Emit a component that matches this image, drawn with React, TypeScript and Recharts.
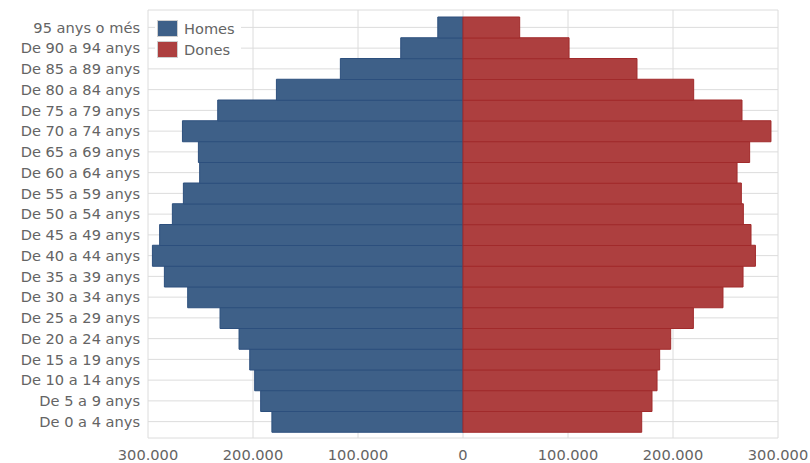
import React from 'react';
import { BarChart, Bar, XAxis, YAxis, CartesianGrid } from 'recharts';

const ageGroups = [
  'De 0 a 4 anys', 'De 5 a 9 anys', 'De 10 a 14 anys', 'De 15 a 19 anys',
  'De 20 a 24 anys', 'De 25 a 29 anys', 'De 30 a 34 anys', 'De 35 a 39 anys',
  'De 40 a 44 anys', 'De 45 a 49 anys', 'De 50 a 54 anys', 'De 55 a 59 anys',
  'De 60 a 64 anys', 'De 65 a 69 anys', 'De 70 a 74 anys', 'De 75 a 79 anys',
  'De 80 a 84 anys', 'De 85 a 89 anys', 'De 90 a 94 anys', '95 anys o més',
];

const homes = [
  182000, 192700, 198400, 203100, 213300, 231400, 262200, 284400, 295800, 288900,
  276800, 266300, 250800, 252000, 267200, 233600, 177700, 116800, 59300, 24000,
];

const dones = [
  170200, 180000, 184800, 187300, 197800, 219400, 247600, 266700, 278500, 274300,
  267000, 265100, 261000, 273000, 293300, 265700, 219700, 165700, 101000, 54000,
];

const xTicks = [-300000, -200000, -100000, 0, 100000, 200000, 300000];

const HOMES_FILL = '#3e6088';
const HOMES_STROKE = '#2c4f7d';
const DONES_FILL = '#ad3f3f';
const DONES_STROKE = '#a12a2b';
const TEXT = '#646464';
const FONT = '"DejaVu Sans", Verdana, sans-serif';
const FS = 14.6;

const data = ageGroups.map((g, i) => ({ age: g, Homes: -homes[i], Dones: dones[i] }));

const fmt = (v: number) => Math.abs(v).toString().replace(/\B(?=(\d{3})+(?!\d))/g, '.');

const legendItems = [
  { name: 'Homes', fill: HOMES_FILL },
  { name: 'Dones', fill: DONES_FILL },
];

// legend drawn over the plot (the Recharts Legend would shrink the plot)
const LegendBox = () => (
  <div
    style={{
      position: 'absolute',
      left: 155,
      top: 18,
      background: '#fff',
      padding: '0px 6px 0px 2px',
      fontFamily: FONT,
      fontSize: FS,
      color: TEXT,
    }}
  >
    {legendItems.map((it) => (
      <div key={it.name} style={{ display: 'flex', alignItems: 'center', height: 21 }}>
        <span
          style={{
            display: 'inline-block',
            width: 19,
            height: 15,
            background: it.fill,
            border: '1px solid #cfcfcf',
            marginRight: 6,
          }}
        />
        <span>{it.name}</span>
      </div>
    ))}
  </div>
);

export default function App() {
  return (
    <div style={{ position: 'absolute', left: 0, top: 0, width: 810, height: 463, background: '#fff' }}>
      <BarChart
        width={810}
        height={463}
        data={data}
        layout="vertical"
        stackOffset="sign"
        barCategoryGap={0}
        margin={{ top: 10, right: 32, bottom: 0, left: 0 }}
      >
        <CartesianGrid stroke="#dcdcdc" />
        <XAxis
          type="number"
          domain={[-300000, 300000]}
          ticks={xTicks}
          tickFormatter={fmt}
          axisLine={false}
          tickLine={false}
          tickMargin={6}
          height={25}
          tick={{ fill: TEXT, fontSize: FS, fontFamily: FONT }}
        />
        <YAxis
          type="category"
          dataKey="age"
          reversed
          width={148}
          axisLine={false}
          tickLine={false}
          interval={0}
          padding={{ top: 7, bottom: 6 }}
          tick={{ fill: TEXT, fontSize: FS, fontFamily: FONT }}
        />
        <Bar dataKey="Homes" stackId="p" fill={HOMES_FILL} stroke={HOMES_STROKE} strokeWidth={1} isAnimationActive={false} />
        <Bar dataKey="Dones" stackId="p" fill={DONES_FILL} stroke={DONES_STROKE} strokeWidth={1} isAnimationActive={false} />
      </BarChart>
      <LegendBox />
    </div>
  );
}
